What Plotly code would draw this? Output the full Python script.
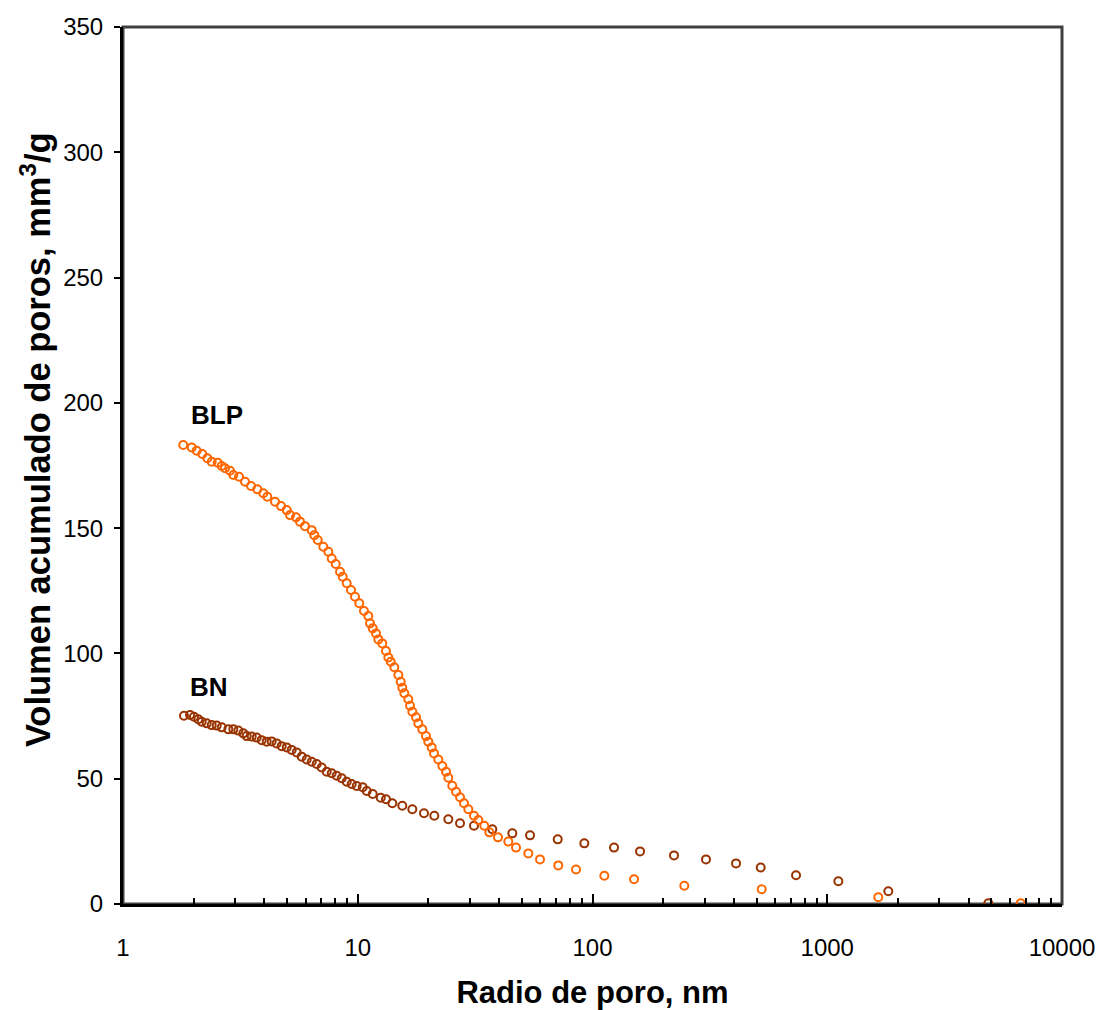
import plotly.graph_objects as go

# Cumulative pore volume (mm3/g) versus pore radius (nm)
blp_radius = [1.806, 1.962, 2.060, 2.177, 2.287, 2.387, 2.532, 2.633, 2.720, 2.856,
              2.951, 3.121, 3.310, 3.511, 3.734, 3.960, 4.119, 4.442, 4.711, 4.982,
              5.146, 5.458, 5.675, 5.961, 6.366, 6.530, 6.752, 7.134, 7.493, 7.745,
              8.056, 8.403, 8.629, 8.975, 9.359, 9.734, 10.15, 10.63, 11.09, 11.28,
              11.58, 11.96, 12.24, 12.72, 13.19, 13.50, 13.82, 14.31, 14.89, 15.24,
              15.48, 15.79, 16.42, 16.70, 17.08, 17.71, 18.11, 18.84, 19.53, 19.98,
              20.65, 21.13, 22.04, 22.93, 23.77, 24.31, 25.28, 26.22, 27.27, 28.36,
              29.58, 31.27, 32.63, 34.60, 36.35, 39.57, 43.79, 47.22, 53.28, 59.76,
              71.50, 85.08, 112.3, 150.3, 246.1, 525.7, 1650, 6670]
blp_volume = [183.2, 182.2, 180.9, 179.6, 177.9, 176.5, 176.1, 174.8, 173.9, 172.9,
              171.2, 170.5, 168.5, 166.8, 165.5, 163.9, 162.5, 160.5, 158.8, 157.2,
              155.2, 154.3, 152.6, 150.8, 149.2, 147.2, 145.3, 142.6, 140.6, 137.9,
              135.7, 132.6, 130.6, 128.0, 125.3, 122.6, 120.0, 116.9, 114.9, 112.0,
              110.0, 108.0, 105.6, 104.0, 101.0, 98.4, 96.7, 94.5, 91.4, 88.7,
              86.3, 84.1, 81.7, 79.1, 76.7, 74.5, 72.1, 69.7, 67.0, 64.8,
              62.5, 60.1, 57.7, 55.1, 52.8, 50.4, 47.2, 44.8, 42.6, 40.2,
              37.8, 35.2, 33.5, 31.2, 28.6, 26.6, 24.9, 22.5, 20.2, 17.8,
              15.4, 13.8, 11.3, 9.9, 7.3, 5.9, 2.7, 0.3]

bn_radius = [1.819, 1.930, 2.006, 2.093, 2.164, 2.273, 2.387, 2.507, 2.633, 2.810,
             2.951, 3.099, 3.254, 3.365, 3.534, 3.711, 3.897, 4.093, 4.298, 4.514,
             4.742, 4.982, 5.232, 5.495, 5.771, 6.061, 6.366, 6.686, 7.022, 7.375,
             7.745, 8.134, 8.543, 8.975, 9.424, 9.897, 10.50, 10.92, 11.58, 12.53,
             13.19, 14.04, 15.48, 17.08, 19.15, 21.19, 24.31, 27.27, 31.27, 37.43,
             45.54, 54.19, 71.09, 92.30, 123.5, 159.4, 222.4, 304.4, 408.7, 520.6,
             736.2, 1115, 1820, 4854]
bn_volume = [75.1, 75.4, 74.7, 73.7, 72.7, 72.1, 71.4, 71.2, 70.5, 69.7,
             69.7, 69.2, 68.1, 67.0, 66.8, 66.4, 65.4, 64.8, 64.9, 64.1,
             63.0, 62.5, 61.5, 60.5, 58.8, 57.7, 56.8, 55.9, 54.5, 52.8,
             52.2, 51.2, 50.2, 48.8, 47.9, 47.1, 46.6, 45.1, 43.9, 42.4,
             41.8, 40.2, 39.2, 37.8, 36.2, 35.2, 33.8, 32.2, 31.2, 29.8,
             28.2, 27.4, 25.8, 24.2, 22.5, 21.0, 19.4, 17.8, 16.2, 14.6,
             11.5, 9.1, 5.1, 0.3]

x_tickvals = [1, 10, 100, 1000, 10000]
x_ticktext = ["1", "10", "100", "1000", "10000"]

FONT = "Liberation Sans, Arial, sans-serif"

fig = go.Figure()
fig.add_trace(go.Scatter(
    x=bn_radius, y=bn_volume, mode="markers", name="BN",
    marker=dict(symbol="circle-open", size=8, color="#993300",
                line=dict(width=2, color="#993300")),
))
fig.add_trace(go.Scatter(
    x=blp_radius, y=blp_volume, mode="markers", name="BLP",
    marker=dict(symbol="circle-open", size=8, color="#FF6600",
                line=dict(width=2, color="#FF6600")),
))

# Series labels
fig.add_annotation(x=0.4004, y=195.0, xref="x", yref="y", text="<b>BLP</b>",
                   showarrow=False, font=dict(family=FONT, size=26, color="black"))
fig.add_annotation(x=0.3663, y=86.5, xref="x", yref="y", text="<b>BN</b>",
                   showarrow=False, font=dict(family=FONT, size=26, color="black"))

# Vertical axis title, placed a little above the axis centre
fig.add_annotation(x=-0.0937, y=0.529, xref="paper", yref="paper",
                   text="<b>Volumen acumulado de poros, mm<sup>3</sup>/g</b>",
                   textangle=-90, showarrow=False, xanchor="center", yanchor="middle",
                   font=dict(family=FONT, size=34.5, color="black"))

# Plot-area frame (top and right in dark grey)
fig.add_shape(type="rect", xref="paper", yref="paper", x0=0, y0=0, x1=1, y1=1,
              line=dict(color="#404040", width=3), layer="below")

fig.update_layout(
    width=1104, height=1010,
    margin=dict(l=123, r=42, t=27, b=106, autoexpand=False),
    paper_bgcolor="white", plot_bgcolor="white",
    showlegend=False,
    font=dict(family=FONT, size=24, color="black"),
    xaxis=dict(
        type="log", range=[0, 4],
        tickmode="array", tickvals=x_tickvals, ticktext=x_ticktext,
        ticks="inside", ticklen=10, tickwidth=1.5, tickcolor="black",
        minor=dict(tickmode="linear", dtick="D1", ticks="inside", ticklen=6,
                   tickwidth=1.5, tickcolor="black", showgrid=False),
        showline=True, linecolor="black", linewidth=3, mirror=False,
        showgrid=False, zeroline=False, automargin=False,
        ticklabelstandoff=20,
        tickfont=dict(family=FONT, size=24, color="black"),
        title=dict(text="<b>Radio de poro, nm</b>", standoff=30,
                   font=dict(family=FONT, size=31, color="black")),
    ),
    yaxis=dict(
        range=[0, 350], dtick=50,
        ticks="outside", ticklen=6, tickwidth=1.5, tickcolor="black",
        showline=True, linecolor="black", linewidth=3, mirror=False,
        showgrid=False, zeroline=False, automargin=False,
        ticklabelstandoff=6,
        tickfont=dict(family=FONT, size=24, color="black"),
    ),
)

fig.write_html("out.html")
